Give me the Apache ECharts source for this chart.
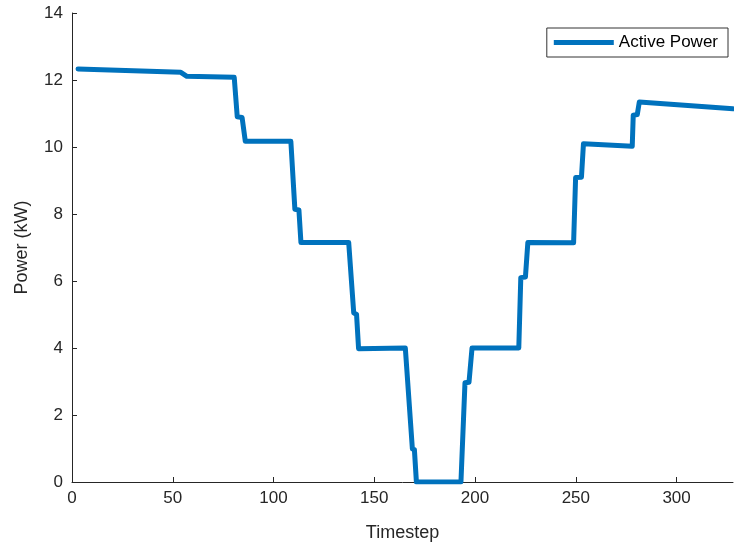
<!DOCTYPE html>
<html>
<head>
<meta charset="utf-8">
<script src="https://cdn.jsdelivr.net/npm/echarts@6/dist/echarts.min.js"></script>
<style>
html,body{margin:0;padding:0;background:#fff;}
#main{width:734px;height:548px;}
</style>
</head>
<body>
<div id="main"></div>
<script>
// timestep / power (kW)
var timesteps = [3, 54, 57, 80.5, 82, 84.4, 86, 108.6, 110.6, 112.6, 113.6, 137.3, 139.8, 141.2, 142.2, 165.4, 168.9, 169.9, 170.9, 193, 195, 197, 198.5, 221.7, 222.7, 225, 226.2, 248.9, 249.9, 252.8, 253.8, 278, 278.5, 280.5, 281.5, 328];
var power = [12.33, 12.23, 12.11, 12.08, 10.9, 10.88, 10.17, 10.17, 8.14, 8.12, 7.15, 7.15, 5.05, 5.0, 3.98, 4.0, 0.99, 0.97, 0, 0, 2.96, 2.98, 4.0, 4.0, 6.1, 6.12, 7.15, 7.14, 9.09, 9.1, 10.1, 10.02, 10.95, 10.97, 11.34, 11.14];
var xTicks = [0, 50, 100, 150, 200, 250, 300];
var yTicks = [0, 2, 4, 6, 8, 10, 12, 14];

var seriesData = [];
for (var i = 0; i < timesteps.length; i++) {
    seriesData.push([timesteps[i], power[i]]);
}

var axisColor = '#262626';
var myChart = echarts.init(document.getElementById('main'));
var option = {
    backgroundColor: '#fff',
    animation: false,
    grid: {left: 72, right: 1, top: 13, bottom: 66},
    legend: {
        right: 6,
        top: 28,
        itemWidth: 60,
        itemHeight: 5,
        itemGap: 4,
        padding: [6, 10, 6, 7],
        borderColor: '#333',
        borderWidth: 1,
        icon: 'rect',
        textStyle: {fontFamily: 'Liberation Sans', fontSize: 17, color: '#000'},
        data: ['Active Power']
    },
    xAxis: {
        type: 'value',
        min: 0,
        max: 328,
        name: 'Timestep',
        nameLocation: 'middle',
        nameGap: 42,
        nameTextStyle: {fontFamily: 'Liberation Sans', fontSize: 18, color: axisColor},
        axisLine: {show: true, lineStyle: {color: axisColor, width: 1}},
        axisTick: {show: true, inside: true, length: 5, customValues: xTicks, lineStyle: {color: axisColor}},
        axisLabel: {customValues: xTicks, fontFamily: 'Liberation Sans', fontSize: 17, color: axisColor, margin: 8},
        splitLine: {show: false}
    },
    yAxis: {
        type: 'value',
        min: 0,
        max: 14,
        interval: 2,
        name: 'Power (kW)',
        nameLocation: 'middle',
        nameGap: 41,
        nameTextStyle: {fontFamily: 'Liberation Sans', fontSize: 18, color: axisColor},
        axisLine: {show: true, lineStyle: {color: axisColor, width: 1}},
        axisTick: {show: true, inside: true, length: 5, customValues: yTicks, lineStyle: {color: axisColor}},
        axisLabel: {customValues: yTicks, fontFamily: 'Liberation Sans', fontSize: 17, color: axisColor, margin: 9},
        splitLine: {show: false}
    },
    series: [{
        name: 'Active Power',
        type: 'line',
        data: seriesData,
        showSymbol: false,
        symbol: 'none',
        color: '#0072BD',
        lineStyle: {width: 5, color: '#0072BD', join: 'round', cap: 'round'}
    }]
};
myChart.setOption(option);
</script>
</body>
</html>
